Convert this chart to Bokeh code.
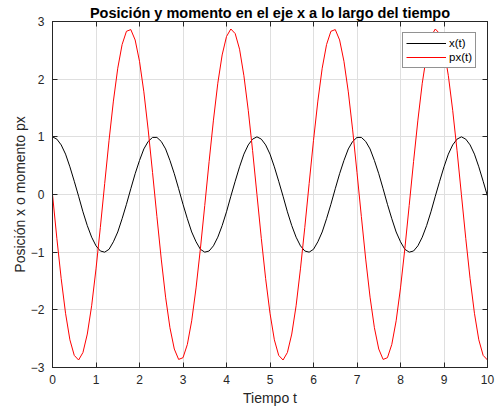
from bokeh.plotting import figure
from bokeh.models import LinearAxis, Range1d, FixedTicker, Legend, LegendItem
from bokeh.embed import file_html
from bokeh.resources import INLINE

# ---- data (t step 0.1) ----
t = [round(0.1 * k, 1) for k in range(101)]

x_cycle = [1.00, 0.96, 0.86, 0.70, 0.48, 0.23, -0.03, -0.30, -0.54, -0.74, -0.89, -0.98,
           -1.00, -0.95, -0.82, -0.65, -0.42, -0.17, 0.10, 0.36, 0.59, 0.79, 0.92, 0.99,
           0.99, 0.92, 0.79, 0.59, 0.36, 0.10, -0.17, -0.42, -0.65, -0.82, -0.95, -1.00,
           -0.98, -0.89, -0.74, -0.54, -0.30, -0.03, 0.23, 0.48, 0.70, 0.86, 0.96]
px_cycle = [0.00, -0.76, -1.46, -2.06, -2.52, -2.79, -2.87, -2.74, -2.42, -1.93, -1.29, -0.57,
            0.19, 0.94, 1.62, 2.19, 2.60, 2.83, 2.86, 2.68, 2.31, 1.78, 1.12, 0.38,
            -0.38, -1.12, -1.78, -2.31, -2.68, -2.86, -2.83, -2.60, -2.19, -1.62, -0.94, -0.19,
            0.57, 1.29, 1.93, 2.42, 2.74, 2.87, 2.79, 2.52, 2.06, 1.46, 0.76]
x_vals = (x_cycle * 3)[:101]
px_vals = (px_cycle * 3)[:101]

x_ticks = [0, 1, 2, 3, 4, 5, 6, 7, 8, 9, 10]
y_ticks = [-3, -2, -1, 0, 1, 2, 3]

FONT = "Liberation Sans"
AX = "#262626"

p = figure(width=500, height=412, output_backend="svg", toolbar_location=None,
           x_range=Range1d(0, 10), y_range=Range1d(-3, 3),
           min_border_left=52, min_border_right=13, min_border_top=21, min_border_bottom=45)
p.title.text = "Posición y momento en el eje x a lo largo del tiempo"
p.title.text_font = FONT
p.title.text_font_size = "14.5px"
p.title.text_font_style = "bold"
p.title.text_color = "#000000"
p.title.align = "center"
p.title.standoff = 2
p.background_fill_color = "white"
p.border_fill_color = "white"
p.outline_line_color = AX
p.outline_line_width = 1

r1 = p.line(t, x_vals, line_color="#000000", line_width=1)
r2 = p.line(t, px_vals, line_color="#ff0000", line_width=1)

for ax in (p.xaxis[0], p.yaxis[0]):
    ax.major_tick_in = 5
    ax.major_tick_out = 0
    ax.minor_tick_in = 0
    ax.minor_tick_out = 0
    ax.axis_line_color = AX
    ax.major_tick_line_color = AX
    ax.major_label_text_font = FONT
    ax.major_label_text_font_size = "12px"
    ax.major_label_text_color = AX
    ax.axis_label_text_font = FONT
    ax.axis_label_text_font_size = "14px"
    ax.axis_label_text_font_style = "normal"
    ax.axis_label_text_color = AX

p.xaxis[0].ticker = FixedTicker(ticks=x_ticks)
p.yaxis[0].ticker = FixedTicker(ticks=y_ticks)
p.xaxis[0].axis_label = "Tiempo t"
p.yaxis[0].axis_label = "Posición x o momento px"
p.xaxis[0].major_label_standoff = 7
p.yaxis[0].major_label_standoff = 8
p.xaxis[0].axis_label_standoff = 3
p.yaxis[0].axis_label_standoff = 0

top = LinearAxis(ticker=FixedTicker(ticks=x_ticks),
                 major_label_overrides={v: "" for v in x_ticks},
                 major_tick_in=5, major_tick_out=0, minor_tick_in=0, minor_tick_out=0,
                 axis_line_color=AX, major_tick_line_color=AX, major_label_standoff=0)
right = LinearAxis(ticker=FixedTicker(ticks=y_ticks),
                   major_label_overrides={v: "" for v in y_ticks},
                   major_tick_in=5, major_tick_out=0, minor_tick_in=0, minor_tick_out=0,
                   axis_line_color=AX, major_tick_line_color=AX, major_label_standoff=0)
p.add_layout(top, "above")
p.add_layout(right, "right")

p.xgrid.ticker = FixedTicker(ticks=x_ticks)
p.ygrid.ticker = FixedTicker(ticks=y_ticks)
p.grid.grid_line_color = "#dfdfdf"
p.grid.grid_line_width = 1

legend = Legend(items=[LegendItem(label="x(t)", renderers=[r1]),
                       LegendItem(label="px(t)", renderers=[r2])],
                location="top_right")
legend.label_text_font = FONT
legend.label_text_font_size = "11.5px"
legend.label_text_color = "#000000"
legend.glyph_width = 40
legend.glyph_height = 14
legend.label_height = 14
legend.label_standoff = 3
legend.spacing = 0
legend.padding = 3
legend.margin = 11
legend.border_line_color = AX
legend.border_line_width = 1
legend.background_fill_color = "white"
legend.background_fill_alpha = 1
p.add_layout(legend)

open("out.html", "w").write(file_html(p, INLINE))
